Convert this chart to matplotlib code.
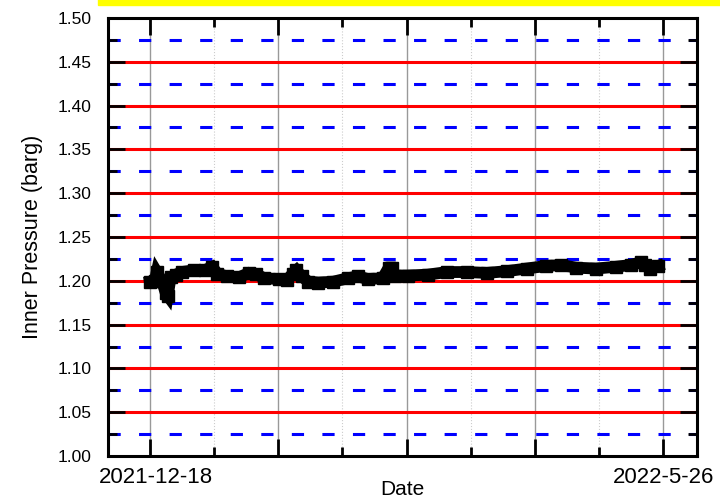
import matplotlib
matplotlib.use('Agg')
import matplotlib.pyplot as plt
import matplotlib.transforms as mtransforms
from matplotlib.patches import Rectangle

# days since 2021-12-18 and inner pressure (barg)
days = [0, 1.5, 2.1, 3.7, 4.9, 5.5, 6.4, 8, 9.8, 13.8, 16.9, 19.3, 20.9, 23.9,
        27.6, 30.7, 32.8, 35.3, 39.9, 42.4, 44.2, 45.4, 47, 49.1, 52.2, 56.8,
        61.4, 64.5, 67.5, 72.1, 74, 74.9, 75.8, 79.8, 86, 92.1, 98.2, 104.4,
        110.5, 116.7, 122.8, 127.4, 132, 138.2, 144.3, 148.9, 152, 153.5,
        155, 157.5]
pressure = [1.199, 1.200, 1.210, 1.200, 1.186, 1.183, 1.204, 1.207, 1.210,
            1.212, 1.212, 1.216, 1.208, 1.205, 1.204, 1.209, 1.208, 1.203,
            1.202, 1.201, 1.208, 1.212, 1.205, 1.199, 1.198, 1.199, 1.203,
            1.205, 1.202, 1.203, 1.215, 1.215, 1.206, 1.206, 1.207, 1.210,
            1.210, 1.209, 1.211, 1.214, 1.217, 1.218, 1.215, 1.214, 1.216,
            1.218, 1.221, 1.218, 1.214, 1.217]

x_major = [0, 39.75, 79.5, 119.25, 159]
x_labels = ['2021-12-18', '', '', '', '2022-5-26']
y_major = [1.00, 1.05, 1.10, 1.15, 1.20, 1.25, 1.30, 1.35, 1.40, 1.45, 1.50]
y_minor = [1.025, 1.075, 1.125, 1.175, 1.225, 1.275, 1.325, 1.375, 1.425, 1.475]

plt.rcParams['font.family'] = ['Liberation Sans', 'DejaVu Sans']

fig = plt.figure(figsize=(7.2, 5.04), dpi=100)
fig.patches.append(Rectangle((98 / 720, 1 - 5 / 504), 1, 0.05,
                             transform=fig.transFigure, color='yellow'))
ax = fig.add_axes([0.15, 0.0952, 0.8181, 0.8691])

ax.plot(days, pressure, color='black', lw=8.5, marker='s', ms=8,
        solid_joinstyle='miter', zorder=5)

ax.set_xlim(-13.0, 169.5)
ax.set_ylim(1.0, 1.5)
ax.set_xticks(x_major)
ax.set_xticklabels(x_labels, fontsize=16)
ax.set_xticks([(a + b) / 2 for a, b in zip(x_major[:-1], x_major[1:])], minor=True)
ax.set_yticks(y_major)
ax.set_yticklabels(['%.2f' % v for v in y_major], fontsize=12.5)
ax.set_yticks(y_minor, minor=True)

ax.tick_params(which='major', direction='in', length=12, width=2,
               top=True, right=True, pad=8)
ax.tick_params(which='minor', direction='in', length=6.5, width=2,
               top=True, right=True)
ax.tick_params(axis='y', which='major', pad=12)

# nudge the first date label a little right, like the original
lbl = ax.get_xticklabels()[0]
lbl.set_transform(lbl.get_transform() +
                  mtransforms.ScaledTranslation(6 / 100, 0, fig.dpi_scale_trans))

# horizontal grid
for v in y_major[1:-1]:
    ax.axhline(v, color='red', lw=2.2, zorder=1)
for v in y_minor:
    ax.axhline(v, color='blue', lw=2.2, ls=(0, (4, 6)), zorder=1)
# vertical grid
for v in x_major:
    ax.axvline(v, color='#999999', lw=1, zorder=0.5)
for a, b in zip(x_major[:-1], x_major[1:]):
    ax.axvline((a + b) / 2, color='#cccccc', lw=0.8, ls=':', zorder=0.5)

for s in ax.spines.values():
    s.set_linewidth(2.2)

ax.set_xlabel('Date', fontsize=15, labelpad=-6)
ax.set_ylabel('Inner Pressure (barg)', fontsize=15.5, labelpad=10)

fig.savefig('out.png', dpi=100)
